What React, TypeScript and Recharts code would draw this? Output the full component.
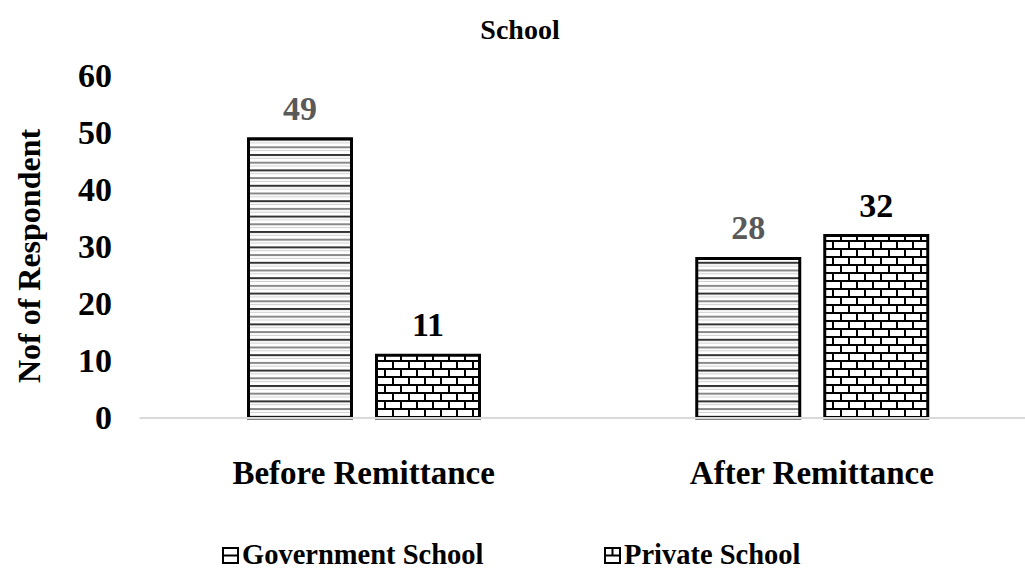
import { Bar, BarChart, LabelList, XAxis, YAxis } from "recharts";

const categories = ["Before Remittance", "After Remittance"];
const governmentValues = [49, 28];
const privateValues = [11, 32];
const seriesNames = ["Government School", "Private School"];
const yTicks = [0, 10, 20, 30, 40, 50, 60];
const yTitle = "Nof of Respondent";
const chartTitle = "School";

const data = categories.map((name, i) => ({
  name,
  government: governmentValues[i],
  private: privateValues[i],
}));

const FONT = "'Liberation Serif', 'Times New Roman', serif";

const YTick = ({ y, payload }: any) => (
  <text
    x={112}
    y={y}
    dy={11}
    textAnchor="end"
    fontFamily={FONT}
    fontWeight="bold"
    fontSize={34}
    fill="#000"
  >
    {payload.value}
  </text>
);

const XTick = ({ x, y, payload }: any) => (
  <text
    x={x}
    y={y + 58}
    textAnchor="middle"
    fontFamily={FONT}
    fontWeight="bold"
    fontSize={33}
    fill="#000"
  >
    {payload.value}
  </text>
);

const YLabel = () => (
  <text
    transform="translate(40, 256) rotate(-90)"
    textAnchor="middle"
    fontFamily={FONT}
    fontWeight="bold"
    fontSize={32}
    fill="#000"
  >
    {yTitle}
  </text>
);

const LegendIcon = ({ fill }: { fill: string }) => (
  <svg width={17} height={17} style={{ marginRight: 3 }}>
    <rect x={1} y={1} width={15} height={15} fill={fill} stroke="#000" strokeWidth={2} />
  </svg>
);

const legendItem = (name: string, icon: string, left: number) => (
  <div
    style={{
      position: "absolute",
      left,
      top: 535,
      display: "flex",
      alignItems: "center",
      fontFamily: FONT,
      fontWeight: "bold",
      fontSize: 28.5,
      color: "#000",
      lineHeight: "40px",
    }}
  >
    <LegendIcon fill={icon} />
    {name}
  </div>
);

export default function App() {
  return (
    <div
      style={{
        position: "absolute",
        left: 0,
        top: 0,
        width: 1025,
        height: 588,
        overflow: "hidden",
        background: "#fff",
      }}
    >
      <div
        style={{
          position: "absolute",
          top: 12,
          left: 0,
          width: 1040,
          textAlign: "center",
          fontFamily: FONT,
          fontWeight: "bold",
          fontSize: 28,
          lineHeight: "36px",
        }}
      >
        {chartTitle}
      </div>
      <svg width={0} height={0} style={{ position: "absolute" }}>
        <defs>
          <pattern id="govIcon" patternUnits="userSpaceOnUse" width={17} height={17}>
            <rect width={17} height={17} fill="#fff" />
            <rect y={7.5} width={17} height={2} fill="#000" />
          </pattern>
          <pattern id="privIcon" patternUnits="userSpaceOnUse" width={17} height={17}>
            <rect width={17} height={17} fill="#fff" />
            <rect y={7.5} width={17} height={2} fill="#000" />
            <rect x={7.5} y={0} width={2} height={8} fill="#000" />
          </pattern>
        </defs>
      </svg>
      <BarChart
        width={1036}
        height={588}
        data={data}
        margin={{ top: 76, right: 0, bottom: 0, left: 0 }}
        barSize={103}
        barGap={25}
      >
        <defs>
          <pattern id="govPattern" patternUnits="userSpaceOnUse" width={10} height={15.4}>
            <rect width={10} height={15.4} fill="#fff" />
            <rect y={0} width={10} height={2} fill="#333" />
            <rect y={3.8} width={10} height={1} fill="#d0d0d0" />
            <rect y={7.7} width={10} height={2} fill="#888" />
            <rect y={11.5} width={10} height={1} fill="#d0d0d0" />
          </pattern>
          <pattern id="privPattern" patternUnits="userSpaceOnUse" width={16} height={16}>
            <rect width={16} height={16} fill="#fff" />
            <rect y={0} width={16} height={2} fill="#000" />
            <rect y={8} width={16} height={2} fill="#000" />
            <rect x={0} y={0} width={2} height={8} fill="#000" />
            <rect x={8} y={8} width={2} height={8} fill="#000" />
          </pattern>
        </defs>
        <XAxis
          dataKey="name"
          height={170}
          tickLine={false}
          axisLine={{ stroke: "#d9d9d9", strokeWidth: 2 }}
          tick={<XTick />}
          interval={0}
        />
        <YAxis
          width={139.5}
          domain={[0, 60]}
          ticks={yTicks}
          tickLine={false}
          axisLine={false}
          tick={<YTick />}
          label={<YLabel />}
        />
        <Bar
          dataKey="government"
          name={seriesNames[0]}
          fill="url(#govPattern)"
          stroke="#000"
          strokeWidth={3}
          isAnimationActive={false}
        >
          <LabelList
            dataKey="government"
            position="top"
            offset={19}
            style={{
              fontFamily: FONT,
              fontWeight: "bold",
              fontSize: 34,
              fill: "#595959",
            }}
          />
        </Bar>
        <Bar
          dataKey="private"
          name={seriesNames[1]}
          fill="url(#privPattern)"
          stroke="#000"
          strokeWidth={3}
          isAnimationActive={false}
        >
          <LabelList
            dataKey="private"
            position="top"
            offset={19}
            style={{
              fontFamily: FONT,
              fontWeight: "bold",
              fontSize: 34,
              fill: "#000",
            }}
          />
        </Bar>
      </BarChart>
      {legendItem(seriesNames[0], "url(#govIcon)", 222)}
      {legendItem(seriesNames[1], "url(#privIcon)", 604)}
    </div>
  );
}
